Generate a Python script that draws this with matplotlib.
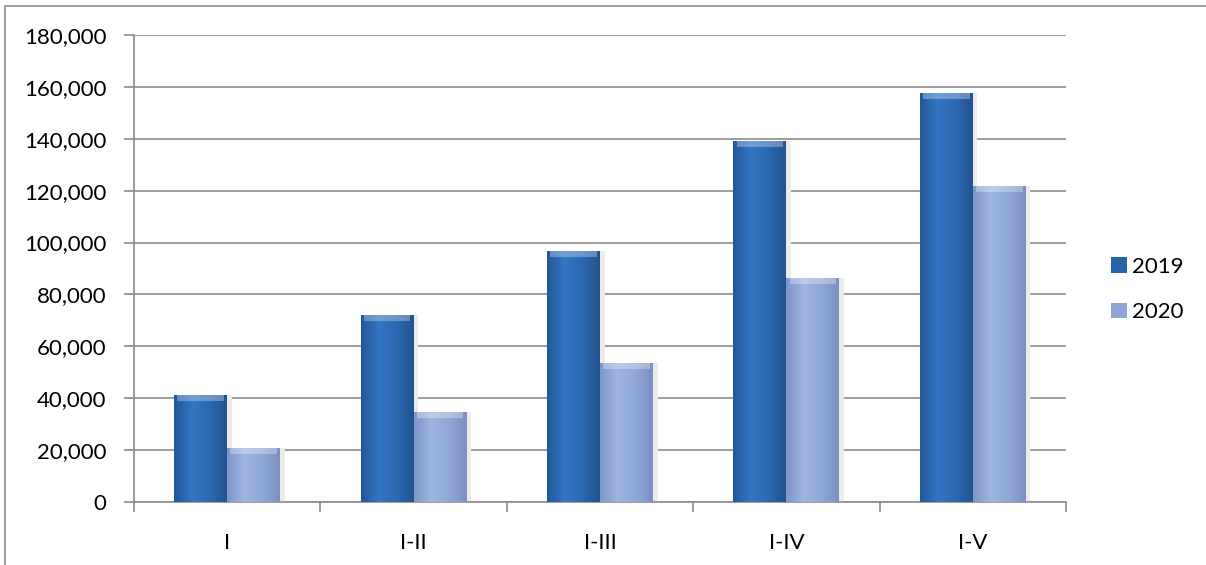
import numpy as np
import matplotlib.pyplot as plt
from matplotlib.colors import LinearSegmentedColormap
from matplotlib.ticker import FuncFormatter, MultipleLocator

categories = ["I", "I-II", "I-III", "I-IV", "I-V"]
series_names = ["2019", "2020"]
values_2019 = [41300, 72000, 96700, 139300, 157500]
values_2020 = [20700, 34700, 53400, 86400, 121900]

plt.rcParams['font.family'] = ['Lato', 'DejaVu Sans']

fig = plt.figure(figsize=(12.06, 5.65), dpi=100)
ax = fig.add_axes([0.1111, 0.1115, 0.7728, 0.8265])

# cornice esterna del grafico
fig.patches.append(plt.Rectangle((5 / 1206, -0.1), 1.2, 1 - 6 / 565 + 0.1,
                                 transform=fig.transFigure, fill=False,
                                 edgecolor='#8c8c8c', linewidth=1.2))

x = np.arange(len(categories))
width = 0.284

# colori: bordo scuro, centro chiaro
cmaps = [
    LinearSegmentedColormap.from_list('c19', ['#24579a', '#3475c4', '#2d69b2', '#22538f']),
    LinearSegmentedColormap.from_list('c20', ['#7e96c8', '#9fb6e0', '#90a8d8', '#7a90c0']),
]
legend_colors = ['#2b63aa', '#8ea6d6']
grad = np.linspace(0, 1, 64).reshape(1, -1)

for k, vals in enumerate([values_2019, values_2020]):
    offs = (k - 0.5) * width
    # ombra leggera a destra
    ax.bar(x + offs + 0.025, vals, width, color='#ebebeb', zorder=2, linewidth=0)
    bars = ax.bar(x + offs, vals, width, color=legend_colors[k], zorder=3,
                  linewidth=0, label=series_names[k])
    for b in bars:
        x0, y0 = b.get_x(), b.get_y()
        w, h = b.get_width(), b.get_height()
        im = ax.imshow(grad, cmap=cmaps[k], aspect='auto',
                       extent=(x0, x0 + w, y0, y0 + h), zorder=4)
        im.set_clip_path(b)
        # bordo superiore smussato
        ax.bar(x0 + w / 2, 2300, w * 0.88, bottom=y0 + h - 2300,
               color='white', alpha=0.3, zorder=5, linewidth=0)

ax.set_xlim(-0.5, len(categories) - 0.5)
ax.set_ylim(0, 180000)
ax.yaxis.set_major_locator(MultipleLocator(20000))
ax.yaxis.set_major_formatter(FuncFormatter(lambda v, p: f"{int(v):,}"))
ax.grid(axis='y', color='#8c8c8c', linewidth=1.2, zorder=1)
ax.set_axisbelow(True)

ax.set_xticks(np.arange(len(categories) + 1) - 0.5)
ax.set_xticklabels([])
ax.set_xticks(x, minor=True)
ax.set_xticklabels(categories, minor=True)
ax.tick_params(axis='x', which='minor', length=0, pad=22, labelsize=16)
ax.tick_params(axis='x', which='major', length=7, width=1.2, color='#8c8c8c')
ax.tick_params(axis='y', length=7, width=1.2, color='#8c8c8c', labelsize=16, pad=13)

for s in ['top', 'right']:
    ax.spines[s].set_visible(False)
for s in ['left', 'bottom']:
    ax.spines[s].set_color('#8c8c8c')
    ax.spines[s].set_linewidth(1.2)

ax.legend(loc='center left', bbox_to_anchor=(1.039, 0.455), frameon=False,
          fontsize=16, handlelength=0.7, handleheight=0.7, handletextpad=0.25,
          labelspacing=1.15, borderaxespad=0)

fig.savefig('out.png', dpi=100)
